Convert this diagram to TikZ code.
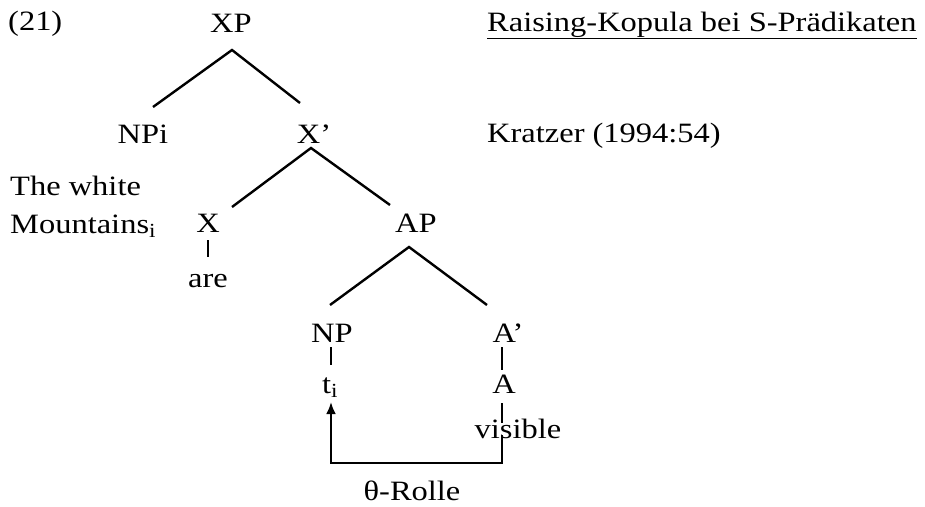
\documentclass[tikz,border=0pt]{standalone}
\usepackage{fontspec}
\setmainfont{Liberation Serif}[FakeStretch=1.16]
\usetikzlibrary{arrows.meta}
\begin{document}
\begin{tikzpicture}[x=1pt,y=-1pt,
  lbl/.style={anchor=base,inner sep=0pt,font=\fontsize{28}{34}\selectfont},
  lblw/.style={anchor=base west,inner sep=0pt,font=\fontsize{28}{34}\selectfont},
  br/.style={line width=2.4pt},
  vbr/.style={line width=2.4pt}]
\useasboundingbox (0,0) rectangle (925,506);
% labels
\node[lblw] (n21) at (8,30) {(21)};
\node[lbl] (XP) at (231,32) {XP};
\node[lbl] (NPi) at (143,143) {NPi};
\node[lbl] (Xb) at (314,143) {X’};
\node[lblw] (tw) at (10,195) {The white};
\node[lblw] (mt) at (10,233) {Mountains\textsubscript{\fontsize{20}{20}\selectfont i}};
\node[lbl] (X) at (208,232) {X};
\node[lbl] (AP) at (416,232) {AP};
\node[lbl] (are) at (208,287) {are};
\node[lbl] (NP) at (332,342) {NP};
\node[lbl] (Ab) at (508,342) {A’};
\node[lbl] (ti) at (330,393) {t\textsubscript{\fontsize{20}{20}\selectfont i}};
\node[lbl] (A) at (504,393) {A};
\node[lbl] (vis) at (518,438) {visible};
\node[lbl] (theta) at (412,500) {θ-Rolle};
\node[lblw] (title) at (487,31) {\underline{Raising-Kopula bei S-Prädikaten}};
\node[lblw] (kr) at (487,142) {Kratzer (1994:54)};
% branches
\draw[br] ([xshift=10pt,yshift=36pt]NPi.base) -- ([xshift=1pt,yshift=-18pt]XP.base) -- ([xshift=-14pt,yshift=40pt]Xb.base);
\draw[br] ([xshift=24pt,yshift=25pt]X.base) -- ([xshift=-3pt,yshift=-5pt]Xb.base) -- ([xshift=-26pt,yshift=27pt]AP.base);
\draw[br] ([xshift=-2pt,yshift=37pt]NP.base) -- ([xshift=-7pt,yshift=-15pt]AP.base) -- ([xshift=-21pt,yshift=37pt]Ab.base);
\draw[vbr] ([yshift=-8pt]X.base) -- ([yshift=30pt]are.base);
\draw[vbr] ([xshift=-1pt,yshift=-5pt]NP.base) -- ([xshift=1pt,yshift=28pt]ti.base);
\draw[vbr] ([xshift=-6pt,yshift=-5pt]Ab.base) -- ([xshift=-2pt,yshift=23pt]A.base);
\draw[vbr] ([xshift=-2pt,yshift=-10pt]A.base) -- ([xshift=-16pt,yshift=15pt]vis.base);
% theta role arrow
\draw[br,-{Latex[length=12pt,width=10pt]}] ([xshift=-16pt,yshift=3pt]vis.base) -- ++(0,28) -| ([xshift=1pt,yshift=-9pt]ti.base);
\end{tikzpicture}
\end{document}
